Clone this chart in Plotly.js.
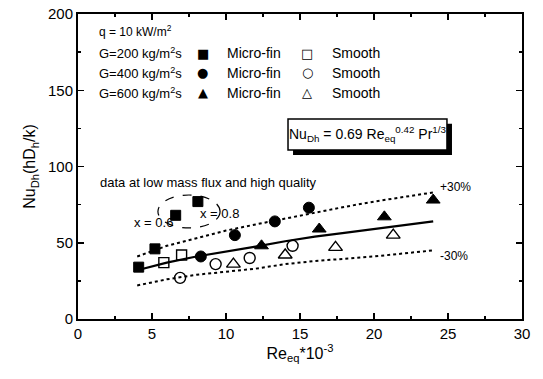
<!DOCTYPE html>
<html><head><meta charset="utf-8">
<script src="https://cdn.plot.ly/plotly-3.0.1.min.js"></script>
<style>html,body{margin:0;padding:0;background:#fff}#c{width:543px;height:379px}</style>
</head><body><div id="c"></div>
<script>
// G=200 micro-fin (filled squares)
const g200FinX = [4.1, 5.2, 6.6, 8.1];
const g200FinY = [34, 46, 68, 77];
// G=400 micro-fin (filled circles)
const g400FinX = [8.3, 10.6, 13.3, 15.6];
const g400FinY = [41, 55, 64, 73];
// G=600 micro-fin (filled triangles)
const g600FinX = [12.4, 16.3, 20.7, 24.0];
const g600FinY = [48, 59, 67, 78];
// G=200 smooth (open squares)
const g200SmX = [5.8, 7.0];
const g200SmY = [37, 42];
// G=400 smooth (open circles)
const g400SmX = [6.9, 9.3, 11.6, 14.5];
const g400SmY = [27, 36, 40, 48];
// G=600 smooth (open triangles)
const g600SmX = [10.5, 14.0, 17.4, 21.3];
const g600SmY = [36, 42, 47, 55];
// correlation and +/-30% bands
const corrX = [4, 6, 8, 10, 12, 14, 16, 18, 20, 22, 24];
const corrY = [32, 37, 41, 44.5, 47.5, 51, 54, 56.5, 59, 61.5, 64];
const upperY = [41, 48, 53, 58, 62, 66, 70, 73.5, 77, 80, 83];
const lowerY = [22, 26, 29, 31, 33, 36, 38, 39.5, 41, 43, 45];

const F = 'Liberation Sans, Arial, sans-serif';
const FS = 'DejaVu Sans, sans-serif';
function mk(x, y, sym, size){
  const open = sym.indexOf('open') >= 0;
  return {x:x, y:y, type:'scatter', mode:'markers', showlegend:false,
    marker:{symbol:sym, size:size, color:'#000', line:{color:'#000', width: open ? 1.4 : 1}}, cliponaxis:false};
}
const traces = [
  {x:corrX, y:upperY, type:'scatter', mode:'lines', line:{color:'#000', width:2, dash:'dot'}, showlegend:false},
  {x:corrX, y:lowerY, type:'scatter', mode:'lines', line:{color:'#000', width:2, dash:'dot'}, showlegend:false},
  {x:corrX, y:corrY, type:'scatter', mode:'lines', line:{color:'#000', width:2.2}, showlegend:false},
  mk(g200SmX, g200SmY, 'square-open', 10),
  mk(g400SmX, g400SmY, 'circle-open', 11),
  mk(g600SmX, g600SmY, 'triangle-up-open', 12),
  mk(g200FinX, g200FinY, 'square', 10),
  mk(g400FinX, g400FinY, 'circle', 11),
  mk(g600FinX, g600FinY, 'triangle-up', 12)
];

function ann(text, x, y, size, xanchor, fam){
  return {text:text, xref:'paper', yref:'paper', x:x, y:y, showarrow:false,
    xanchor:xanchor||'left', yanchor:'middle', font:{family:fam||F, size:size||12, color:'#000'}};
}
const rows = [
  ['G=200 kg/m<sup>2</sup>s', '\u25A0', '\u25A1', 0.872],
  ['G=400 kg/m<sup>2</sup>s', '\u25CF', '\u25CB', 0.807],
  ['G=600 kg/m<sup>2</sup>s', '\u25B2', '\u25B3', 0.741]
];
const annotations = [ann('q = 10 kW/m<sup>2</sup>', 0.043, 0.944, 12)];
rows.forEach(r => {
  annotations.push(ann(r[0], 0.043, r[3], 13));
  annotations.push(ann(r[1], 0.2815, r[3], 13, 'center', FS));
  annotations.push(ann('Micro-fin', 0.331, r[3], 14));
  annotations.push(ann(r[2], 0.516, r[3], 13, 'center', FS));
  annotations.push(ann('Smooth', 0.5676, r[3], 14));
});
annotations.push(ann('Nu<sub>Dh</sub> = 0.69 Re<sub>eq</sub><sup>0.42</sup> Pr<sup>1/3</sup>', 0.652, 0.605, 14, 'center'));
annotations.push(ann('data at low mass flux and high quality', 0.045, 0.446, 13));
annotations.push(ann('x = 0.6', 0.1216, 0.315, 13));
annotations.push(ann('x = 0.8', 0.27, 0.3475, 13));
annotations.push(ann('+30%', 0.811, 0.433, 12));
annotations.push(ann('-30%', 0.811, 0.2066, 12));

const shapes = [
  {type:'rect', xref:'paper', yref:'paper', x0:0.4843, x1:0.8423, y0:0.538, y1:0.640, fillcolor:'#000', line:{width:0}, layer:'below'},
  {type:'rect', xref:'paper', yref:'paper', x0:0.473, x1:0.831, y0:0.554, y1:0.656, fillcolor:'#fff', line:{color:'#000', width:1.5}, layer:'below'},
  {type:'circle', xref:'x', yref:'y', x0:5.4, x1:9.6, y0:59.7, y1:81.3, line:{color:'#000', width:1.2, dash:'dash'}}
];

const axBase = {showgrid:false, zeroline:false, showline:true, linecolor:'#000', linewidth:2,
  mirror:'ticks', ticks:'inside', ticklen:6, tickwidth:1.5, tickcolor:'#000',
  tickfont:{family:F, size:15, color:'#000'}};
const layout = {
  width:543, height:379, margin:{l:78, r:21, t:14, b:60},
  paper_bgcolor:'#fff', plot_bgcolor:'rgba(0,0,0,0)', showlegend:false,
  xaxis: Object.assign({}, axBase, {range:[0,30], dtick:5, tick0:0,
    minor:{ticks:'inside', dtick:2.5, ticklen:3, tickcolor:'#000'},
    title:{text:'Re<sub>eq</sub>*10<sup>-3</sup>', font:{family:F, size:16, color:'#000'}, standoff:4}}),
  yaxis: Object.assign({}, axBase, {range:[0,200], dtick:50, tick0:0,
    minor:{ticks:'inside', dtick:25, ticklen:3, tickcolor:'#000'},
    title:{text:'Nu<sub>Dh</sub>(hD<sub>h</sub>/k)', font:{family:F, size:16, color:'#000'}, standoff:8}}),
  annotations: annotations, shapes: shapes
};
Plotly.newPlot('c', traces, layout, {staticPlot:true, displayModeBar:false});
</script></body></html>
